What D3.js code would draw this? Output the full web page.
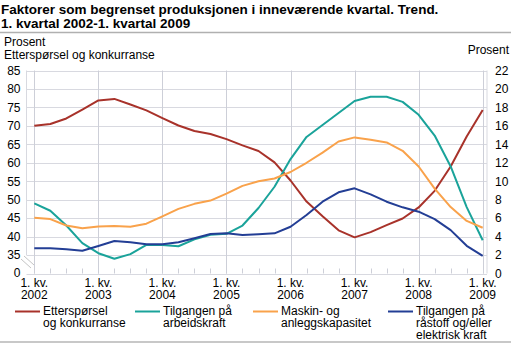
<!DOCTYPE html>
<script src="https://d3js.org/d3.v7.min.js"></script>

<style>
	body { margin: 0; background: #fff; }
	svg text { font-family: "Liberation Sans", Arial, sans-serif; fill: #000; }
	.grid line { stroke: #d8d9e0; stroke-width: 1; }
	.vgrid line { stroke: #cdcfd8; stroke-width: 1; }
	.series { fill: none; stroke-width: 2; stroke-linejoin: round; }
</style>

<html><body>
<svg class="chart" width="511" height="344"></svg>

<script>
var years = ["2002","2003","2004","2005","2006","2007","2008","2009"];

// quarters 2002K1 .. 2009K1
var quarters = [];
years.forEach(function(y) {
	[1,2,3,4].forEach(function(q) {
		if (y != "2009" || q == 1) quarters.push(y + "K" + q);
	});
});

// left axis
var ettersporsel = [70.0, 70.5, 72.0, 74.4, 76.9, 77.3, 75.8, 74.2, 72.1, 70.1,
	68.6, 67.8, 66.4, 64.7, 63.2, 60.1, 55.2, 49.5, 45.5, 41.7,
	39.8, 41.2, 43.1, 44.9, 47.9, 52.4, 59.0, 67.1, 74.3];

// right axis
var arbeidskraft = [7.6, 6.8, 5.2, 3.3, 2.2, 1.6, 2.1, 3.1, 3.1, 2.95,
	3.7, 4.2, 4.3, 5.2, 7.1, 9.4, 12.4, 14.8, 16.1, 17.4,
	18.7, 19.15, 19.15, 18.6, 17.2, 14.95, 11.6, 7.2, 3.6];
var kapasitet = [6.05, 5.9, 5.2, 4.9, 5.1, 5.15, 5.07, 5.4, 6.2, 7.0,
	7.55, 7.9, 8.65, 9.5, 10.0, 10.3, 11.0, 12.0, 13.1, 14.3,
	14.75, 14.5, 14.2, 13.3, 11.6, 9.2, 7.2, 5.7, 4.96];
var raastoff = [2.73, 2.73, 2.62, 2.47, 2.98, 3.52, 3.38, 3.16, 3.16, 3.38,
	3.81, 4.28, 4.35, 4.17, 4.25, 4.35, 5.07, 6.34, 7.78, 8.8,
	9.23, 8.58, 7.78, 7.17, 6.7, 5.9, 4.7, 3.0, 1.9];

var leftTicks = [35,40,45,50,55,60,65,70,75,80,85];
var rightTicks = [0,2,4,6,8,10,12,14,16,18,20,22];

var series = [
	{ name: ["Etterspørsel","og konkurranse"], values: ettersporsel, axis: "left", color: "#a8322a" },
	{ name: ["Tilgangen på","arbeidskraft"], values: arbeidskraft, axis: "right", color: "#1aa39a" },
	{ name: ["Maskin- og","anleggskapasitet"], values: kapasitet, axis: "right", color: "#f9a24b" },
	{ name: ["Tilgangen på","råstoff og/eller","elektrisk kraft"], values: raastoff, axis: "right", color: "#233e95" }
];

var left = 26.5, right = 487;

var x = d3.scaleLinear()
	.domain([0, quarters.length - 1])
	.range([34.3, 482.7]);

var yR = d3.scaleLinear()
	.domain([0,22])
	.range([273.5,70.5]);

// left scale is broken: 35..85 shares the grid of 2..22 on the right
var yL = d3.scaleLinear()
	.domain([35,85])
	.range([yR(2), yR(22)]);

var chart = d3.select(".chart");

// title
chart.append("text")
	.attr("x",1).attr("y",13.5)
	.style("font-size","13.5px").style("font-weight","bold")
	.text("Faktorer som begrenset produksjonen i inneværende kvartal. Trend.");
chart.append("text")
	.attr("x",1).attr("y",28)
	.style("font-size","13.5px").style("font-weight","bold")
	.text("1. kvartal 2002-1. kvartal 2009");

chart.append("line")
	.attr("x1",0).attr("x2",511).attr("y1",32.5).attr("y2",32.5)
	.style("stroke","#b0b0b0").style("stroke-width",1.5);
chart.append("line")
	.attr("x1",0).attr("x2",511).attr("y1",342).attr("y2",342)
	.style("stroke","#c8c8c8").style("stroke-width",2);

chart.append("text").attr("x",4).attr("y",45.5).style("font-size","12px").text("Prosent");
chart.append("text").attr("x",4).attr("y",58.5).style("font-size","12px").text("Etterspørsel og konkurranse");
chart.append("text").attr("x",509).attr("y",53.5).attr("text-anchor","end").style("font-size","12px").text("Prosent");

// horizontal grid
chart.append("g").attr("class","grid")
	.selectAll("line")
	.data(rightTicks)
	.enter().append("line")
	.attr("x1",left).attr("x2",right)
	.attr("y1",function(d) { return Math.round(yR(d)) + 0.5; })
	.attr("y2",function(d) { return Math.round(yR(d)) + 0.5; });

// frame sides
chart.append("g").attr("class","grid")
	.selectAll("line")
	.data([left, right])
	.enter().append("line")
	.attr("x1",function(d) { return d; }).attr("x2",function(d) { return d; })
	.attr("y1",yR(22)).attr("y2",function(d,i) { return i == 0 ? yR(2) : yR(0); });

// year gridlines
chart.append("g").attr("class","vgrid")
	.selectAll("line")
	.data(years)
	.enter().append("line")
	.attr("x1",function(d,i) { return Math.round(x(i*4)) + 0.5; })
	.attr("x2",function(d,i) { return Math.round(x(i*4)) + 0.5; })
	.attr("y1",yR(22)).attr("y2",yR(0));

// quarter ticks
chart.append("g").attr("class","vgrid")
	.selectAll("line")
	.data(quarters)
	.enter().append("line")
	.attr("x1",function(d,i) { return Math.round(x(i)) + 0.5; })
	.attr("x2",function(d,i) { return Math.round(x(i)) + 0.5; })
	.attr("y1",yR(0) - 5).attr("y2",yR(0));

// axis break
chart.append("g").attr("class","grid")
	.selectAll("line")
	.data([0,3])
	.enter().append("line")
	.attr("x1",function(d) { return 21 + d; }).attr("y1",function(d) { return 259 - d; })
	.attr("x2",function(d) { return 31 + d; }).attr("y2",function(d) { return 268 - d; })
	.style("stroke","#c4c4c4");

// left axis
var axL = chart.append("g")
	.attr("transform","translate(" + left + ",0)")
	.call(d3.axisLeft(yL).tickValues(leftTicks).tickSize(0).tickPadding(6));
axL.append("text")
	.attr("x",-6).attr("y",yR(0)).attr("dy","0.32em")
	.attr("text-anchor","end")
	.text("0");

// right axis
var axR = chart.append("g")
	.attr("transform","translate(" + right + ",0)")
	.call(d3.axisRight(yR).tickValues(rightTicks).tickSize(0).tickPadding(8));

chart.selectAll(".domain").remove();
chart.selectAll(".tick text, g > text")
	.style("font-size","12px").style("font-family","Liberation Sans, Arial, sans-serif").attr("fill","#000");

// x labels
var xl = chart.append("g").selectAll("text")
	.data(years)
	.enter().append("text")
	.attr("x",function(d,i) { return x(i*4); })
	.attr("text-anchor","middle")
	.style("font-size","12px");
xl.append("tspan").attr("x",function(d,i) { return x(i*4); }).attr("y",287).text("1. kv.");
xl.append("tspan").attr("x",function(d,i) { return x(i*4); }).attr("y",299).text(function(d) { return d; });

// lines
chart.append("g")
	.selectAll("path")
	.data(series)
	.enter().append("path")
	.attr("class","series")
	.style("stroke",function(d) { return d.color; })
	.attr("d",function(s) {
		var y = s.axis == "left" ? yL : yR;
		return d3.line()
			.x(function(d,i) { return x(i); })
			.y(function(d) { return y(d); })(s.values);
	});

// legend
var legendX = [15, 135, 253, 388];
var leg = chart.append("g")
	.selectAll("g")
	.data(series)
	.enter().append("g")
	.attr("transform",function(d,i) { return "translate(" + legendX[i] + ",0)"; });
leg.append("line")
	.attr("x1",0).attr("x2",25).attr("y1",311.5).attr("y2",311.5)
	.style("stroke",function(d) { return d.color; }).style("stroke-width",2);
leg.append("text")
	.style("font-size","12px")
	.selectAll("tspan")
	.data(function(d) { return d.name; })
	.enter().append("tspan")
	.attr("x",28)
	.attr("y",function(d,i) { return 314.5 + i*12; })
	.text(function(d) { return d; });
</script>

</body></html>
